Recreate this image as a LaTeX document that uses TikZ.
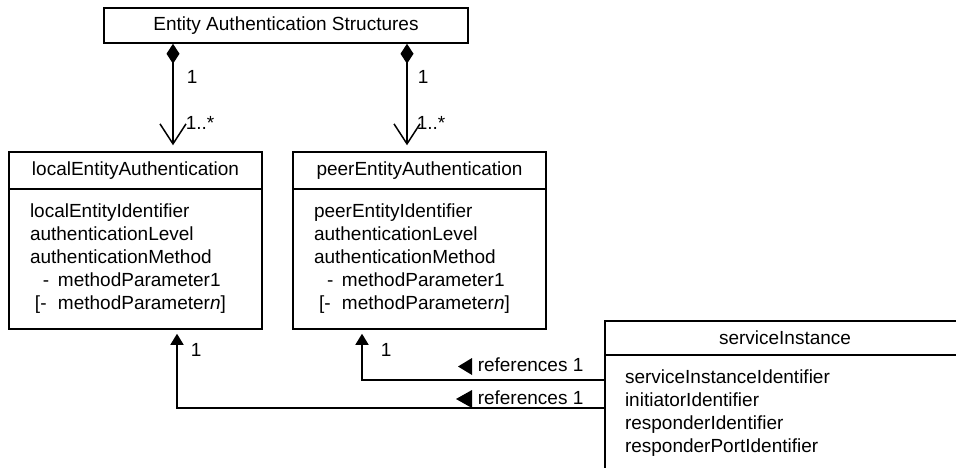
\documentclass[tikz,border=0pt]{standalone}
\usepackage{fontspec}
\setmainfont{Liberation Sans}
\usetikzlibrary{arrows.meta}
\newcommand{\ParamIndent}[1]{\makebox[28pt][l]{#1}}

\begin{document}
\begin{tikzpicture}[x=1pt,y=-1pt,font=\fontsize{19}{23}\selectfont,line width=1.5pt]
        \tikzset{ClassHead/.style={draw, inner sep=0pt, minimum width=253pt, minimum height=37pt}}
        \tikzset{ClassBody/.style={draw, inner xsep=21pt, inner ysep=0pt, text width=211pt, minimum height=140pt, align=left}}
        \tikzset{Compose/.style={{Diamond[width=13pt,length=20pt]}-{Straight Barb[length=20pt,width=26pt]}, shorten >=6pt}}
        \tikzset{RefEdge/.style={-{Triangle[length=11pt,width=13pt]}, shorten >=4pt}}
        \tikzset{Label/.style={anchor=west, inner sep=0pt}}
        \clip (0,0) rectangle (956,467);
        \node[draw, inner sep=0pt, minimum width=364pt, minimum height=35pt] (EAS) at (286,25.5) {Entity Authentication Structures};
        \node[ClassHead] (LocalHead) at (135.5,170.5) {localEntityAuthentication};
        \node[ClassBody] (LocalBody) at (135.5,259) {localEntityIdentifier\\ authenticationLevel\\ authenticationMethod\\ \ParamIndent{\hspace*{13pt}-}methodParameter1\\ \ParamIndent{\hspace*{5pt}[-}methodParameter\textit{n}]};
        \node[ClassHead] (PeerHead) at (419.5,170.5) {peerEntityAuthentication};
        \node[ClassBody] (PeerBody) at (419.5,259) {peerEntityIdentifier\\ authenticationLevel\\ authenticationMethod\\ \ParamIndent{\hspace*{13pt}-}methodParameter1\\ \ParamIndent{\hspace*{5pt}[-}methodParameter\textit{n}]};
        \node[draw, inner sep=0pt, minimum width=360pt, minimum height=34pt] (ServHead) at (785,338) {serviceInstance};
        \node[draw, inner xsep=20pt, inner ysep=0pt, text width=320pt, minimum height=116pt, align=left] (ServBody) at (785,413) {serviceInstanceIdentifier\\ initiatorIdentifier\\ responderIdentifier\\ responderPortIdentifier};
        \coordinate (LocalLink) at (173,0);
        \coordinate (PeerLink) at (407,0);
        \draw[Compose] (EAS.south -| LocalLink) -- (LocalHead.north -| LocalLink);
        \draw[Compose] (EAS.south -| PeerLink) -- (PeerHead.north -| PeerLink);
        \node[Label] (LocalOne) at (186,77) {1};
        \node[Label] (LocalMany) at (185,123) {1..*};
        \node[Label] (PeerOne) at (417,77) {1};
        \node[Label] (PeerMany) at (416,123) {1..*};
        \coordinate (PeerRef) at (362,380);
        \coordinate (LocalRef) at (177,408);
        \draw[RefEdge] (ServBody.west |- PeerRef) -- (PeerRef) -- (PeerBody.south -| PeerRef);
        \draw[RefEdge] (ServBody.west |- LocalRef) -- (LocalRef) -- (LocalBody.south -| LocalRef);
        \node[Label] (PeerRefOne) at (380,350) {1};
        \node[Label] (LocalRefOne) at (190,350) {1};
        \node[Label] (PeerRefText) at (477,365) {references 1};
        \node[Label] (LocalRefText) at (477,398) {references 1};
        \fill (PeerRefText.west) ++(-19,1.5) -- ++(14,-8.5) -- ++(0,17) -- cycle;
        \fill (LocalRefText.west) ++(-21,1) -- ++(16,-9) -- ++(0,18) -- cycle;
\end{tikzpicture}
\end{document}
